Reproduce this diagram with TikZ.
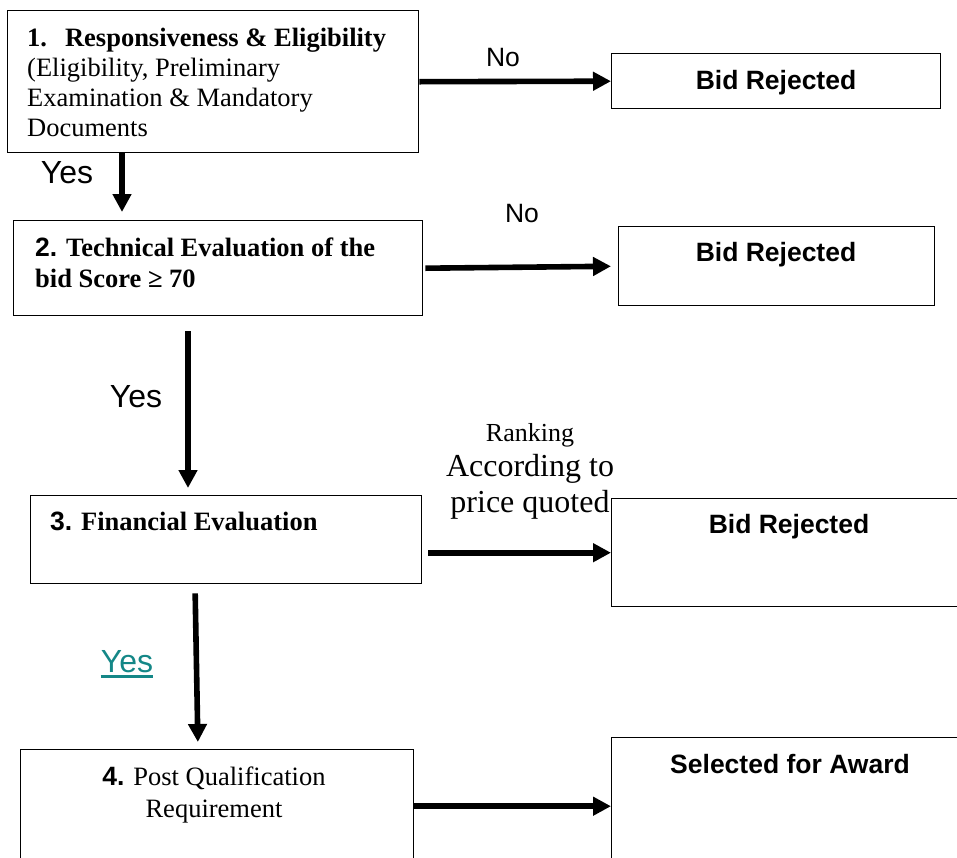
\documentclass[tikz,border=0pt]{standalone}
\usepackage{fontspec}
\setmainfont{Liberation Serif}
\setsansfont{Liberation Sans}
\usetikzlibrary{arrows.meta}
\definecolor{yesteal}{RGB}{20,135,135}
\tikzset{
  box/.style={draw, line width=1.4pt, inner sep=0pt, anchor=north west},
  flow/.style={line width=5.6pt, -{Triangle[length=18pt,width=18pt]}},
  txt/.style={inner sep=0pt, font=\fontsize{26.5}{30}\selectfont},
  rej/.style={inner sep=0pt, anchor=base, font=\fontsize{26.5}{30}\selectfont\sffamily\bfseries},
  lbl/.style={inner sep=0pt, anchor=base, font=\fontsize{32}{36}\selectfont\sffamily}
}

\begin{document}
\begin{tikzpicture}[x=1pt,y=-1pt]
        \useasboundingbox (0,0) rectangle (957,857);

        % boxes
        \node[box, minimum width=411pt, minimum height=142pt] (resp) at (7,10) {};
        \node[box, minimum width=329pt, minimum height=55pt] (rej1) at (611,53) {};
        \node[box, minimum width=409pt, minimum height=95pt] (tech) at (13,220) {};
        \node[box, minimum width=316pt, minimum height=79pt] (rej2) at (618,226) {};
        \node[box, minimum width=391pt, minimum height=88pt] (fin) at (30,495) {};
        \node[box, minimum width=351pt, minimum height=108pt] (rej3) at (611,498) {};
        \node[box, minimum width=393pt, minimum height=113pt] (post) at (20,749) {};
        \node[box, minimum width=351pt, minimum height=125pt] (award) at (611,737) {};

        % box texts
        \node[txt, anchor=north west, align=left] (resptxt) at (27,28)
          {\textbf{1.}\hspace{18pt}\textbf{Responsiveness \& Eligibility}\\(Eligibility, Preliminary\\Examination \& Mandatory\\Documents};
        \node[txt, anchor=north west, align=left, font=\fontsize{26.5}{31}\selectfont] (techtxt) at (35,238)
          {\textbf{\sffamily 2.} \textbf{Technical Evaluation of the}\\\textbf{bid Score ≥ 70}};
        \node[txt, anchor=north west] (fintxt) at (50,512) {\textbf{\sffamily 3.} \textbf{Financial Evaluation}};
        \node[txt, anchor=north, align=center, font=\fontsize{26.5}{32}\selectfont] (posttxt) at (214,767)
          {\textbf{\sffamily 4.} Post Qualification\\Requirement};

        \node[rej] (rej1txt) at (776,89.5) {Bid Rejected};
        \node[rej] (rej2txt) at (776,261.5) {Bid Rejected};
        \node[rej] (rej3txt) at (789,533.5) {Bid Rejected};
        \node[rej] (awardtxt) at (790,773.5) {Selected for Award};

        % arrows
        \draw[flow] (resp.east) -- (rej1.west);
        \draw[flow, shorten >=7pt] ([xshift=2pt]tech.east) -- (rej2.west);
        \draw[flow, shorten <=6pt] (fin.east |- rej3.west) -- (rej3.west);
        \draw[flow] (post.east) -- (post.east -| award.west);

        \draw[flow, shorten >=8pt] ([xshift=115pt]resp.south west) -- ([xshift=109pt]tech.north west);
        \draw[flow, shorten <=15pt, shorten >=7pt] ([xshift=175pt]tech.south west) -- ([xshift=158pt]fin.north west);
        \draw[flow, shorten <=9pt, shorten >=7pt] ([xshift=165pt]fin.south west) -- ([xshift=178pt]post.north west);

        % labels
        \node[lbl, font=\fontsize{26.5}{30}\selectfont\sffamily] (no1) at (503,66.5) {No};
        \node[lbl, font=\fontsize{26.5}{30}\selectfont\sffamily] (no2) at (522,222.5) {No};
        \node[lbl] (yes1) at (67,183.5) {Yes};
        \node[lbl] (yes2) at (136,407.5) {Yes};
        \node[lbl, text=yesteal] (yes3) at (127,672.5) {Yes};
        \draw[yesteal, line width=3pt] ([yshift=-4pt]yes3.base west) -- ([yshift=-4pt]yes3.base east);

        \node[inner sep=0pt, anchor=base, font=\fontsize{26}{30}\selectfont] (rank) at (530,441) {Ranking};
        \node[inner sep=0pt, anchor=north, align=center, font=\fontsize{32}{36}\selectfont] (price) at (530,454.5)
          {According to\\price quoted};
\end{tikzpicture}
\end{document}
